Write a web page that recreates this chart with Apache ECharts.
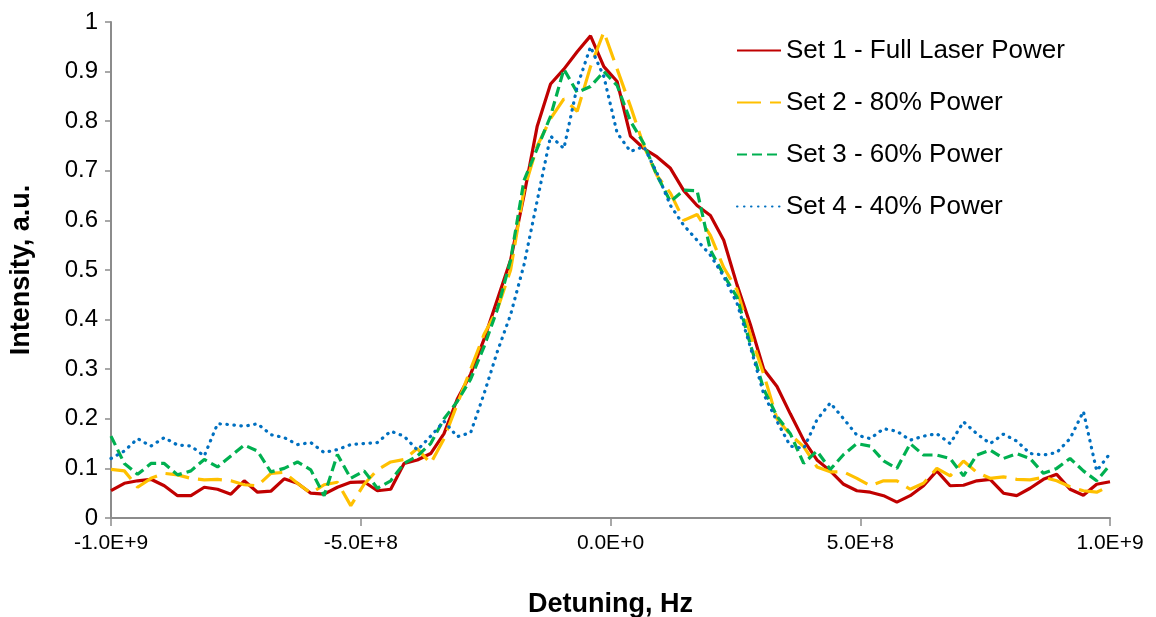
<!DOCTYPE html>
<html>
<head>
<meta charset="utf-8">
<script src="https://cdn.jsdelivr.net/npm/echarts@6/dist/echarts.min.js"></script>
<style>
  html, body { margin: 0; padding: 0; background: #fff; }
  #chart { width: 1156px; height: 617px; }
</style>
</head>
<body>
<div id="chart"></div>
<script>
// detuning grid, MHz
var detuningMHz = [
  -1000, -973.3, -946.7, -920, -893.3, -866.7, -840, -813.3, -786.7, -760,
  -733.3, -706.7, -680, -653.3, -626.7, -600, -573.3, -546.7, -520, -493.3,
  -466.7, -440, -413.3, -386.7, -360, -333.3, -306.7, -280, -253.3, -226.7,
  -200, -173.3, -146.7, -120, -93.3, -66.7, -40, -13.3, 13.3, 40,
  66.7, 93.3, 120, 146.7, 173.3, 200, 226.7, 253.3, 280, 306.7,
  333.3, 360, 386.7, 413.3, 440, 466.7, 493.3, 520, 546.7, 573.3,
  600, 626.7, 653.3, 680, 706.7, 733.3, 760, 786.7, 813.3, 840,
  866.7, 893.3, 920, 946.7, 973.3, 1000
];

var set1 = [
  0.055, 0.07, 0.075, 0.078, 0.065, 0.045, 0.045, 0.062, 0.058, 0.048,
  0.075, 0.052, 0.054, 0.079, 0.07, 0.05, 0.048, 0.062, 0.072, 0.073,
  0.055, 0.058, 0.11, 0.117, 0.13, 0.17, 0.24, 0.29, 0.36, 0.44,
  0.52, 0.65, 0.79, 0.875, 0.905, 0.94, 0.972, 0.91, 0.88, 0.77,
  0.745, 0.728, 0.705, 0.66, 0.63, 0.61, 0.56, 0.47, 0.39, 0.30,
  0.265, 0.21, 0.157, 0.117, 0.095, 0.068, 0.055, 0.052, 0.045, 0.032,
  0.045, 0.065, 0.095, 0.065, 0.066, 0.075, 0.078, 0.05, 0.045, 0.06,
  0.078, 0.088, 0.058, 0.046, 0.068, 0.073
];
var set2 = [
  0.098, 0.095, 0.062, 0.08, 0.09, 0.087, 0.08, 0.077, 0.078, 0.075,
  0.067, 0.065, 0.09, 0.092, 0.07, 0.05, 0.067, 0.072, 0.025, 0.068,
  0.097, 0.113, 0.118, 0.14, 0.11, 0.16, 0.23, 0.30, 0.37, 0.42,
  0.50, 0.66, 0.75, 0.805, 0.845, 0.82, 0.91, 0.98, 0.905, 0.83,
  0.75, 0.69, 0.655, 0.60, 0.612, 0.57, 0.505, 0.46, 0.37, 0.29,
  0.20, 0.168, 0.144, 0.103, 0.093, 0.093, 0.08, 0.065, 0.075, 0.075,
  0.058, 0.07, 0.1, 0.085, 0.115, 0.092, 0.08, 0.083, 0.078, 0.077,
  0.082, 0.075, 0.063, 0.055, 0.052, 0.065
];
var set3 = [
  0.165, 0.11, 0.088, 0.11, 0.11, 0.087, 0.095, 0.118, 0.103, 0.125,
  0.147, 0.135, 0.093, 0.10, 0.113, 0.097, 0.045, 0.128, 0.08, 0.095,
  0.06, 0.075, 0.11, 0.125, 0.15, 0.2, 0.235, 0.28, 0.345, 0.42,
  0.52, 0.68, 0.745, 0.81, 0.905, 0.858, 0.87, 0.9, 0.872, 0.80,
  0.755, 0.69, 0.638, 0.661, 0.66, 0.54, 0.49, 0.445, 0.35, 0.26,
  0.205, 0.17, 0.11, 0.135, 0.098, 0.128, 0.15, 0.145, 0.115, 0.10,
  0.15, 0.127, 0.127, 0.12, 0.085, 0.127, 0.137, 0.12, 0.13, 0.12,
  0.09, 0.1, 0.12, 0.095, 0.075, 0.107
];
var set4 = [
  0.12, 0.135, 0.16, 0.145, 0.162, 0.147, 0.145, 0.125, 0.19, 0.188,
  0.185, 0.19, 0.168, 0.162, 0.148, 0.152, 0.132, 0.138, 0.148, 0.15,
  0.152, 0.175, 0.165, 0.137, 0.165, 0.195, 0.164, 0.172, 0.25, 0.335,
  0.41, 0.51, 0.64, 0.77, 0.745, 0.87, 0.95, 0.89, 0.776, 0.739,
  0.749, 0.695, 0.63, 0.59, 0.56, 0.53, 0.487, 0.433, 0.345, 0.25,
  0.195, 0.145, 0.14, 0.198, 0.232, 0.2, 0.167, 0.16, 0.18, 0.175,
  0.157, 0.165, 0.17, 0.15, 0.194, 0.17, 0.15, 0.169, 0.155, 0.13,
  0.127, 0.132, 0.16, 0.215, 0.095, 0.13
];

var names = ['Set 1 - Full Laser Power', 'Set 2 - 80% Power', 'Set 3 - 60% Power', 'Set 4 - 40% Power'];
var colors = ['#C00000', '#FFC000', '#00B050', '#0070C0'];

function pairs(vals) {
  return vals.map(function (v, i) { return [detuningMHz[i] * 1e6, v]; });
}

var font = 'Liberation Sans, Arial, sans-serif';
var chart = echarts.init(document.getElementById('chart'));
chart.setOption({
  animation: false,
  grid: { left: 111, right: 46, top: 22, bottom: 99, outerBoundsMode: 'none' },
  legend: {
    orient: 'vertical',
    left: 731,
    top: 32,
    itemWidth: 44,
    itemHeight: 14,
    itemGap: 25,
    itemStyle: { opacity: 0 },
    textStyle: { fontFamily: font, fontSize: 26, color: '#000', lineHeight: 27 },
    data: names
  },
  xAxis: {
    type: 'value',
    min: -1e9,
    max: 1e9,
    interval: 5e8,
    name: 'Detuning, Hz',
    nameLocation: 'middle',
    nameGap: 73,
    nameTextStyle: { fontFamily: font, fontSize: 27, fontWeight: 'bold', color: '#000' },
    splitLine: { show: false },
    axisLine: { lineStyle: { color: '#8c8c8c', width: 2 } },
    axisTick: { length: 8, lineStyle: { color: '#8c8c8c', width: 1.5 } },
    axisLabel: {
      margin: 15,
      fontFamily: font,
      fontSize: 21,
      color: '#000',
      formatter: function (v) { return v.toExponential(1).toUpperCase(); }
    }
  },
  yAxis: {
    type: 'value',
    min: 0,
    max: 1,
    interval: 0.1,
    name: 'Intensity, a.u.',
    nameLocation: 'middle',
    nameGap: 76,
    nameTextStyle: { fontFamily: font, fontSize: 27, fontWeight: 'bold', color: '#000' },
    splitLine: { show: false },
    axisLine: { show: true, onZero: false, lineStyle: { color: '#8c8c8c', width: 2 } },
    axisTick: { show: true, length: 6, lineStyle: { color: '#8c8c8c', width: 1.5 } },
    axisLabel: {
      margin: 13,
      fontFamily: font,
      fontSize: 24,
      color: '#000',
      formatter: function (v) { return String(+v.toFixed(1)); }
    }
  },
  series: [
    { name: names[0], type: 'line', symbol: 'none', data: pairs(set1),
      lineStyle: { color: colors[0], width: 3.2 }, itemStyle: { color: colors[0] } },
    { name: names[1], type: 'line', symbol: 'none', data: pairs(set2),
      lineStyle: { color: colors[1], width: 3.2, type: [24, 9] }, itemStyle: { color: colors[1] } },
    { name: names[2], type: 'line', symbol: 'none', data: pairs(set3),
      lineStyle: { color: colors[2], width: 3.2, type: [10, 5] }, itemStyle: { color: colors[2] } },
    { name: names[3], type: 'line', symbol: 'none', data: pairs(set4),
      lineStyle: { color: colors[3], width: 3.2, type: [0.5, 6.5], cap: 'round' }, itemStyle: { color: colors[3] } }
  ]
});
</script>
</body>
</html>
